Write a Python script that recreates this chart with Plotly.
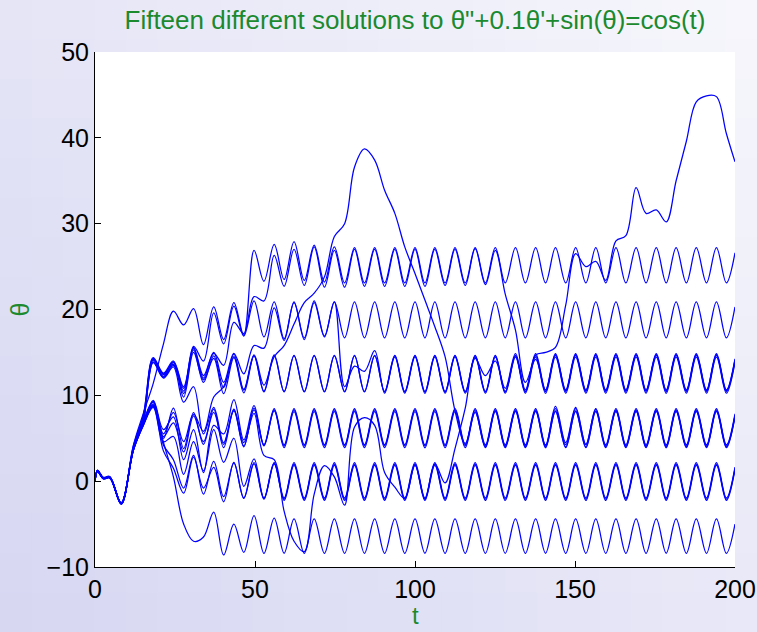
import plotly.graph_objects as go

# ---------------- data ----------------
# time grid: start, early features, then the extremum times of the steady oscillation
T = [0.0, 0.8, 2.6, 4.6, 8.2, 12.0, 15.1, 18.2, 21.4, 24.5,
     27.7, 30.8, 33.9, 37.1, 40.2, 43.4, 46.5, 49.7, 52.8, 56.0,
     59.1, 62.2, 65.4, 68.5, 71.7, 74.8, 78.0, 81.1, 84.2, 87.4,
     90.5, 93.7, 96.8, 100.0, 103.1, 106.2, 109.4, 112.5, 115.7, 118.8,
     122.0, 125.1, 128.2, 131.4, 134.5, 137.7, 140.8, 143.9, 147.1, 150.2,
     153.4, 156.5, 159.6, 162.8, 165.9, 169.1, 172.2, 175.4, 178.5, 181.6,
     184.8, 187.9, 191.1, 194.2, 197.3, 200.0]

th01 = [0.0, 1.2, 0.35, 0.45, -2.6, 4.2, 7.9, 11.4, 16.0, 19.8,
        18.2, 20.1, 15.9, 20.3, 16.5, 20.8, 17.0, 26.9, 23.3, 27.6,
        23.5, 27.9, 23.4, 27.5, 23.2, 27.3, 23.1, 27.2, 23.1, 27.2,
        23.1, 27.2, 23.1, 27.2, 23.1, 27.2, 23.1, 27.2, 23.1, 27.2,
        23.1, 27.2, 23.1, 27.2, 23.1, 27.2, 23.1, 27.2, 23.1, 27.2,
        23.1, 27.2, 23.1, 27.2, 23.1, 27.2, 23.1, 27.2, 23.1, 27.2,
        23.1, 27.2, 23.1, 27.2, 23.1, 26.6]

th02 = [0.05, 1.15, 0.3, 0.4, -2.65, 4.0, 7.6, 14.3, 12.4, 13.9,
        10.8, 15.5, 12.0, 14.9, 13.5, 18.5, 17.2, 21.5, 21.0, 26.3,
        22.7, 27.0, 22.8, 27.3, 22.6, 26.9, 22.6, 27.0, 22.7, 27.0,
        22.7, 27.0, 22.7, 27.0, 22.7, 27.0, 22.8, 27.0, 22.8, 27.1,
        22.9, 26.9, 21.8, 17.6, 11.5, 14.2, 10.6, 14.75, 10.55, 14.75,
        10.55, 14.75, 10.55, 14.75, 10.55, 14.75, 10.55, 14.75, 10.55, 14.75,
        10.55, 14.75, 10.55, 14.75, 10.55, 14.15]

th03 = [-0.05, 1.25, 0.4, 0.5, -2.55, 3.9, 7.3, 14.1, 12.2, 13.8,
        10.2, 15.3, 11.5, 14.6, 10.9, 14.8, 10.7, 14.7, 11.2, 14.5,
        15.8, 18.3, 20.8, 21.9, 23.8, 28.5, 30.0, 36.6, 38.7, 37.4,
        33.9, 31.2, 27.3, 24.2, 21.1, 18.0, 14.5, 8.2, 4.4, 8.0,
        4.0, 8.2, 4.0, 8.2, 4.0, 8.2, 4.0, 8.2, 4.0, 8.2,
        4.0, 8.2, 4.0, 8.2, 4.0, 8.2, 4.0, 8.2, 4.0, 8.2,
        4.0, 8.2, 4.0, 8.2, 4.0, 7.6]

th04 = [0.1, 1.3, 0.45, 0.55, -2.5, 3.8, 7.0, 14.2, 12.5, 13.6,
        9.8, 15.0, 11.8, 14.3, 10.2, 14.4, 10.3, 14.6, 10.4, 14.6,
        10.4, 14.6, 10.4, 14.6, 10.4, 14.6, 10.4, 14.6, 10.4, 14.6,
        10.4, 14.6, 10.4, 14.6, 10.4, 14.6, 10.4, 14.6, 10.4, 14.6,
        10.4, 14.6, 10.4, 14.6, 10.4, 14.7, 15.0, 15.6, 20.5, 26.5,
        25.0, 25.6, 23.4, 28.0, 28.6, 34.2, 31.2, 31.6, 30.2, 35.0,
        39.6, 44.2, 44.9, 44.8, 40.5, 37.2]

th05 = [0.0, 1.2, 0.35, 0.45, -2.6, 3.7, 6.9, 13.9, 12.1, 13.5,
        10.5, 15.7, 14.0, 19.6, 16.0, 20.4, 16.9, 21.0, 16.8, 20.9,
        16.6, 20.8, 16.7, 21.0, 16.9, 20.9, 11.0, 13.4, 12.8, 15.2,
        10.25, 14.45, 10.25, 14.45, 10.25, 14.45, 10.25, 14.45, 10.25, 14.45,
        10.25, 14.45, 10.25, 14.45, 10.25, 14.45, 10.25, 14.45, 10.25, 14.45,
        10.25, 14.45, 10.25, 14.45, 10.25, 14.45, 10.25, 14.45, 10.25, 14.45,
        10.25, 14.45, 10.25, 14.45, 10.25, 13.85]

th06 = [0.05, 1.2, 0.35, 0.45, -2.6, 4.1, 7.7, 14.4, 12.6, 14.0,
        11.0, 15.6, 12.3, 15.0, 11.5, 14.9, 12.5, 15.8, 15.5, 20.2,
        16.4, 20.9, 16.5, 20.8, 16.8, 20.9, 16.7, 20.9, 16.7, 20.9,
        16.7, 20.9, 16.7, 20.9, 16.7, 20.9, 16.7, 20.9, 16.7, 20.9,
        16.7, 20.9, 16.7, 20.9, 16.7, 20.9, 16.7, 20.9, 16.7, 20.9,
        16.7, 20.9, 16.7, 20.9, 16.7, 20.9, 16.7, 20.9, 16.7, 20.9,
        16.7, 20.9, 16.7, 20.9, 16.7, 20.3]

th07 = [-0.05, 1.15, 0.3, 0.4, -2.65, 3.7, 6.8, 9.2, 5.5, 8.0,
        4.6, 7.8, 5.8, 9.8, 11.0, 14.5, 10.6, 14.6, 10.5, 14.7,
        10.45, 14.65, 10.45, 14.65, 10.45, 14.65, 10.45, 14.65, 10.45, 14.65,
        10.45, 14.65, 10.45, 14.65, 10.45, 14.65, 10.45, 14.65, 10.45, 14.65,
        10.45, 14.65, 10.45, 14.65, 10.45, 14.65, 10.45, 14.65, 10.45, 14.65,
        10.45, 14.65, 10.45, 14.65, 10.45, 14.65, 10.45, 14.65, 10.45, 14.65,
        10.45, 14.65, 10.45, 14.65, 10.45, 14.05]

th08 = [0.0, 1.2, 0.35, 0.45, -2.6, 3.8, 7.1, 13.8, 12.0, 13.3,
        9.2, 11.0, 5.5, 8.6, 4.5, 8.2, 4.0, 8.5, 4.25, 8.45,
        4.25, 8.45, 4.25, 8.45, 4.25, 8.45, 4.25, 8.45, 4.25, 8.45,
        4.25, 8.45, 4.25, 8.45, 4.25, 8.45, 4.25, 8.45, 4.25, 8.45,
        4.25, 8.45, 4.25, 8.45, 4.25, 8.45, 4.25, 8.45, 4.25, 8.45,
        4.25, 8.45, 4.25, 8.45, 4.25, 8.45, 4.25, 8.45, 4.25, 8.45,
        4.25, 8.45, 4.25, 8.45, 4.25, 7.85]

th09 = [0.0, 1.2, 0.35, 0.45, -2.6, 3.6, 6.6, 9.0, 5.0, 8.5,
        3.8, 8.0, 4.3, 8.4, 3.9, 8.3, 4.1, 8.3, 4.1, 8.3,
        4.1, 8.3, 4.1, 8.3, 4.1, 8.3, 4.1, 8.3, 4.1, 8.3,
        4.1, 8.3, 4.1, 8.3, 4.1, 8.3, 4.1, 8.3, 4.1, 8.3,
        4.1, 8.3, 4.1, 8.3, 4.1, 8.3, 4.1, 8.7, 4.5, 8.6,
        4.3, 8.4, 4.1, 8.3, 4.1, 8.3, 4.1, 8.3, 4.1, 8.3,
        4.1, 8.3, 4.1, 8.3, 4.1, 7.7]

th10 = [0.1, 1.25, 0.4, 0.5, -2.55, 3.7, 6.7, 9.4, 6.0, 7.5,
        2.5, 6.0, 1.0, 6.5, 5.5, 9.5, 4.8, 8.8, 4.2, 8.2,
        3.9, 8.1, 3.9, 8.1, 3.9, 8.1, 3.9, 8.1, 3.9, 8.1,
        3.9, 8.1, 3.9, 8.1, 3.9, 8.1, 3.9, 8.1, 3.9, 8.1,
        3.9, 8.1, 3.9, 8.1, 3.9, 8.1, 3.9, 8.1, 3.9, 8.1,
        3.9, 8.1, 3.9, 8.1, 3.9, 8.1, 3.9, 8.1, 3.9, 8.1,
        3.9, 8.1, 3.9, 8.1, 3.9, 7.5]

th11 = [-0.1, 1.1, 0.25, 0.35, -2.7, 3.6, 6.5, 8.8, 4.2, 2.5,
        -0.8, 3.0, -1.5, 2.3, -1.8, 2.1, -2.0, 2.0, -2.1, 2.0,
        -2.1, 2.0, -2.1, 2.0, -2.1, 2.0, -2.1, 2.0, -2.1, 2.0,
        -2.1, 2.0, -2.1, 2.0, -2.1, 2.0, -0.2, 3.8, 8.5, 14.3,
        12.3, 14.0, 10.8, 14.85, 10.65, 14.85, 10.65, 14.85, 10.65, 14.85,
        10.65, 14.85, 10.65, 14.85, 10.65, 14.85, 10.65, 14.85, 10.65, 14.85,
        10.65, 14.85, 10.65, 14.85, 10.65, 14.25]

th12 = [0.0, 1.2, 0.35, 0.45, -2.6, 3.7, 6.6, 8.7, 3.5, 1.5,
        -1.4, 2.8, -0.8, 1.6, -2.4, 2.2, -1.95, 2.15, -1.95, 2.15,
        -1.95, 2.15, -1.95, 2.15, -1.95, 2.15, -1.95, 2.15, -1.95, 2.15,
        -1.95, 2.15, -1.95, 2.15, -1.95, 2.15, -1.95, 2.15, -1.95, 2.15,
        -1.95, 2.15, -1.95, 2.15, -1.95, 2.15, -1.95, 2.15, -1.95, 2.15,
        -1.95, 2.15, -1.95, 2.15, -1.95, 2.15, -1.95, 2.15, -1.95, 2.15,
        -1.95, 2.15, -1.95, 2.15, -1.95, 1.65]

th13 = [0.05, 1.2, 0.35, 0.45, -2.6, 3.8, 7.0, 9.3, 5.2, 6.8,
        3.4, 7.6, 4.6, 8.0, 4.3, 8.4, 4.5, 7.9, 3.0, 2.5,
        -3.5, -7.0, -8.2, -1.5, 1.8, 0.5, -2.8, 6.3, 7.4, 6.5,
        1.0, -0.7, -2.0, 1.9, -2.1, 2.0, -2.1, 2.0, -2.1, 2.0,
        -2.1, 2.0, -2.1, 2.0, -2.1, 2.0, -2.1, 2.0, -2.1, 2.0,
        -2.1, 2.0, -2.1, 2.0, -2.1, 2.0, -2.1, 2.0, -2.1, 2.0,
        -2.1, 2.0, -2.1, 2.0, -2.1, 1.5]

th14 = [-0.05, 1.15, 0.3, 0.4, -2.65, 3.6, 6.5, 8.6, 4.6, 5.2,
        0.8, 4.6, 1.2, 6.0, 2.2, 5.0, -0.6, 2.6, -2.0, 2.1,
        -2.25, 1.85, -2.25, 1.85, -2.25, 1.85, -2.25, 1.85, -2.25, 1.85,
        -2.25, 1.85, -2.25, 1.85, -2.25, 1.85, -2.25, 1.85, -2.25, 1.85,
        -2.25, 1.85, -2.25, 1.85, -2.25, 1.85, -2.25, 1.85, -2.25, 1.85,
        -2.25, 1.85, -2.25, 1.85, -2.25, 1.85, -2.25, 1.85, -2.25, 1.85,
        -2.25, 1.85, -2.25, 1.85, -2.25, 1.35]

th15 = [0.0, 1.2, 0.35, 0.45, -2.6, 3.7, 6.7, 8.9, 4.5, 0.5,
        -5.0, -7.0, -6.5, -3.6, -8.6, -5.0, -8.3, -4.0, -8.4, -4.3,
        -8.4, -4.4, -8.4, -4.4, -8.4, -4.4, -8.4, -4.4, -8.4, -4.4,
        -8.4, -4.4, -8.4, -4.4, -8.4, -4.4, -8.4, -4.4, -8.4, -4.4,
        -8.4, -4.4, -8.4, -4.4, -8.4, -4.4, -8.4, -4.4, -8.4, -4.4,
        -8.4, -4.4, -8.4, -4.4, -8.4, -4.4, -8.4, -4.4, -8.4, -4.4,
        -8.4, -4.4, -8.4, -4.4, -8.4, -5.0]

CURVES = [th01, th02, th03, th04, th05, th06, th07, th08,
          th09, th10, th11, th12, th13, th14, th15]

X_TICKS = [0, 50, 100, 150, 200]
Y_TICKS = [-10, 0, 10, 20, 30, 40, 50]
X_RANGE = [0, 200]
Y_RANGE = [-10, 50]
TITLE = 'Fifteen different solutions to \u03b8"+0.1\u03b8\'+sin(\u03b8)=cos(t)'
X_LABEL = "t"
Y_LABEL = "\u03b8"

# ---------------- figure ----------------
W, H = 757, 632
ML, MR, MT, MB = 95, 22, 52, 65
PW, PH = W - ML - MR, H - MT - MB
GREEN = "#1b8a2f"
FONT = "Liberation Sans, Arial, sans-serif"

fig = go.Figure()
for th in CURVES:
    assert len(th) == len(T)
    fig.add_trace(go.Scatter(
        x=T, y=th, mode="lines",
        line=dict(color="#0000ff", width=1.25, shape="spline", smoothing=1.0),
        hoverinfo="skip", showlegend=False))

# lavender gradient background (darker toward bottom-left)
shapes = []
NX, NY = 24, 16
dark = (214, 214, 242)
light = (247, 247, 252)
for i in range(NX):
    for k in range(NY):
        x0 = i * W / NX
        x1 = (i + 1) * W / NX + 1
        y0 = k * H / NY
        y1 = (k + 1) * H / NY + 1
        u = 0.55 * (i + 0.5) / NX + 0.45 * (k + 0.5) / NY
        col = "rgb(%d,%d,%d)" % tuple(round(d + (l - d) * u) for d, l in zip(dark, light))
        shapes.append(dict(type="rect", xref="paper", yref="paper",
                           x0=(x0 - ML) / PW, x1=(x1 - ML) / PW,
                           y0=(y0 - MB) / PH, y1=(y1 - MB) / PH,
                           fillcolor=col, line=dict(width=0), layer="below"))
shapes.append(dict(type="rect", xref="paper", yref="paper", x0=0, x1=1, y0=0, y1=1,
                   fillcolor="white", line=dict(width=0), layer="below"))

axis_common = dict(
    ticks="inside", ticklen=6, tickwidth=1, tickcolor="black",
    showline=True, linecolor="black", linewidth=1, mirror=False,
    showgrid=False, zeroline=False, automargin=False,
    tickfont=dict(family=FONT, size=25, color="black"),
    fixedrange=True,
)

fig.update_layout(
    width=W, height=H,
    margin=dict(l=ML, r=MR, t=MT, b=MB, autoexpand=False),
    paper_bgcolor="rgb(232,232,247)",
    plot_bgcolor="white",
    shapes=shapes,
    title=dict(text=TITLE, x=0.5, xref="paper", xanchor="center",
               y=1 - 20 / H, yref="container", yanchor="middle",
               font=dict(family=FONT, size=26, color=GREEN)),
    xaxis=dict(range=X_RANGE, tickvals=X_TICKS, **axis_common),
    yaxis=dict(range=Y_RANGE, tickvals=Y_TICKS, **axis_common),
    annotations=[
        dict(text=X_LABEL, xref="paper", yref="paper", x=0.5, y=-(615 - (H - MB)) / PH,
             yanchor="middle", xanchor="center", showarrow=False,
             font=dict(family=FONT, size=24, color=GREEN)),
        dict(text=Y_LABEL, xref="paper", yref="paper", x=(19 - ML) / PW, y=0.5,
             textangle=-90, xanchor="center", yanchor="middle", showarrow=False,
             font=dict(family=FONT, size=25, color=GREEN)),
    ],
)

fig.write_html("out.html")
